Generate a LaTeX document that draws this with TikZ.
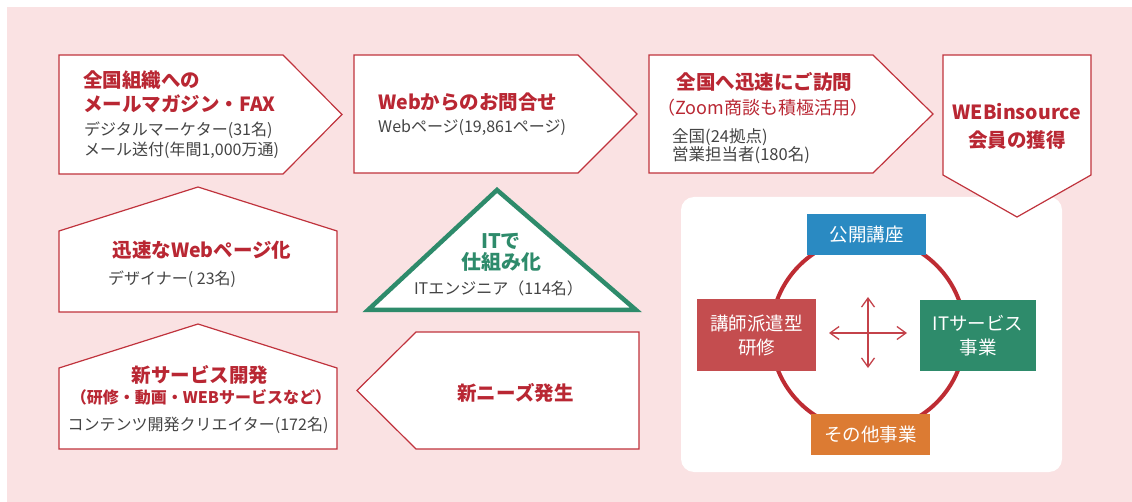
\documentclass[tikz,border=0pt]{standalone}
\usepackage{fontspec}
\setmainfont{Noto Sans CJK JP}
\usetikzlibrary{arrows.meta}
\definecolor{bgpink}{HTML}{FAE2E3}
\definecolor{titlered}{HTML}{B92733}
\definecolor{boxline}{HTML}{C0333D}
\definecolor{subgray}{HTML}{444444}
\definecolor{itgreen}{HTML}{2E8B6B}
\definecolor{kblue}{HTML}{2A8AC2}
\definecolor{kred}{HTML}{C44D4F}
\definecolor{korange}{HTML}{DC7B33}
\definecolor{circred}{HTML}{BE2C33}
\definecolor{arrred}{HTML}{C4424A}
\begin{document}
\begin{tikzpicture}[x=1pt,y=-1pt,
  shapebox/.style={draw=boxline, fill=white, line width=1.2pt, line join=miter},
  ttl/.style={font=\fontsize{19.5}{24}\selectfont\bfseries, text=titlered, inner sep=0pt},
  subt/.style={font=\fontsize{16}{20}\selectfont, text=subgray, inner sep=0pt},
  cbox/.style={text=white, inner sep=0pt, font=\fontsize{18.5}{24}\selectfont, align=center},
  arr/.style={draw=arrred, line width=1.3pt, >={Straight Barb[length=9pt,width=13pt]}, <->}
]
\useasboundingbox (0,0) rectangle (1132,502);
\fill[bgpink] (7,7) rectangle (1132,502);
% white panel
\fill[white, rounded corners=13pt] (681,197) rectangle (1062,472);

% top row
\draw[shapebox] (59,55) -- (283,55) -- (342,114.5) -- (283,174) -- (59,174) -- cycle;
\draw[shapebox] (354,55) -- (578,55) -- (637,114) -- (578,173) -- (354,173) -- cycle;
\draw[shapebox] (649,55) -- (873,55) -- (933,114) -- (873,173) -- (649,173) -- cycle;
\draw[shapebox] (943,55) -- (1091,55) -- (1091,175) -- (1017,217) -- (943,175) -- cycle;

% houses
\draw[shapebox] (59,312) -- (59,231) -- (198,187) -- (337,231) -- (337,312) -- cycle;
\draw[shapebox] (59,449) -- (59,368) -- (198,324) -- (337,368) -- (337,449) -- cycle;

% triangle
\draw[draw=itgreen, fill=white, line width=4.5pt, line join=miter] (368,310) -- (497,190) -- (636,310) -- cycle;

% left-pointing
\draw[shapebox] (357,390.5) -- (416,332) -- (639,332) -- (639,449) -- (416,449) -- cycle;

% texts
\node[ttl, anchor=west, align=left] (t1) at (83,92) {全国組織への\\メールマガジン・FAX};
\node[subt, anchor=west, align=left] (s1) at (84,140) {デジタルマーケター(31名)\\メール送付(年間1,000万通)};

\node[ttl, anchor=west] (t2) at (378,102) {Webからのお問合せ};
\node[subt, anchor=west] (s2) at (378,128) {Webページ(19,861ページ)};

\node[ttl] (t3) at (764.5,82) {全国へ迅速にご訪問};
\node[inner sep=0pt, text=titlered, font=\fontsize{18}{22}\selectfont] (z3) at (763,108) {（Zoom商談も積極活用）};
\node[subt, anchor=west, align=left, font=\fontsize{16.5}{18.5}\selectfont] (s3) at (672,146) {全国(24拠点)\\営業担当者(180名)};

\node[ttl, align=center, font=\fontsize{19.5}{28}\selectfont\bfseries] (t4) at (1017,126) {WEBinsource\\会員の獲得};

\node[ttl] (t5) at (202,250) {迅速なWebページ化};
\node[subt, anchor=west] (s5) at (108,279) {デザイナー( 23名)};

\node[ttl] (t6) at (200,375) {新サービス開発};
\node[ttl, font=\fontsize{16}{20}\selectfont\bfseries] (p6) at (201,397) {（研修・動画・WEBサービスなど）};
\node[subt] (s6) at (198,425) {コンテンツ開発クリエイター(172名)};

\node[inner sep=0pt, text=itgreen, align=center, font=\fontsize{20}{21}\selectfont\bfseries] (t7) at (501,252.5) {ITで\\仕組み化};
\node[subt] (s7) at (498.5,288) {ITエンジニア（114名）};

\node[ttl] (t8) at (515.5,393) {新ニーズ発生};

% circle diagram
\draw[circred, line width=4pt] (868,334) circle [radius=97pt];
\node[cbox, fill=kblue, minimum width=119pt, minimum height=41pt] (kouza) at (866.5,234.5) {公開講座};
\node[cbox, fill=kred, minimum width=119pt, minimum height=72pt] (haken) at (756.5,335) {講師派遣型\\研修};
\node[cbox, fill=itgreen, minimum width=116pt, minimum height=71pt] (itsv) at (978,335.5) {ITサービス\\事業};
\node[cbox, fill=korange, minimum width=119pt, minimum height=41pt] (sonota) at (870.5,434.5) {その他事業};

\coordinate (hl) at (829,333);
\coordinate (hr) at (907,333);
\coordinate (vt) at (868,297);
\coordinate (vb) at (868,368);
\draw[arr] (hl) -- (hr);
\draw[arr] (vt) -- (vb);
\end{tikzpicture}
\end{document}
